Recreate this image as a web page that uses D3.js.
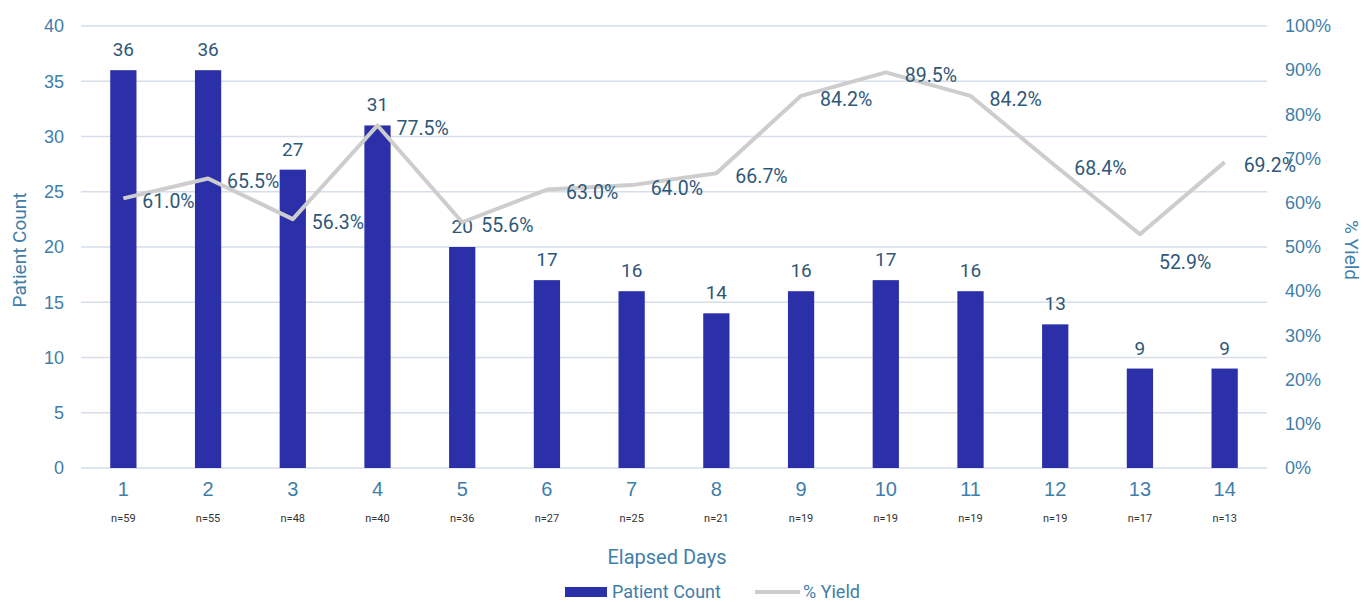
<!DOCTYPE html>
<html>
<head>
<meta charset="utf-8">
<script src="https://d3js.org/d3.v7.min.js"></script>
<style>
  body { margin: 0; background: #fff; }
  svg { font-family: Roboto, "Liberation Sans", sans-serif; }
</style>
</head>
<body>
<div id="chart"></div>
<script>
// chart values
var days = ["1", "2", "3", "4", "5", "6", "7", "8", "9", "10", "11", "12", "13", "14"]
var sampleSizes = [59, 55, 48, 40, 36, 27, 25, 21, 19, 19, 19, 19, 17, 13]
var patientCounts = [36, 36, 27, 31, 20, 17, 16, 14, 16, 17, 16, 13, 9, 9]
var yieldPct = [61.0, 65.5, 56.3, 77.5, 55.6, 63.0, 64.0, 66.7, 84.2, 89.5, 84.2, 68.4, 52.9, 69.2]
var countTicks = [0, 5, 10, 15, 20, 25, 30, 35, 40]
var pctTicks = [0, 10, 20, 30, 40, 50, 60, 70, 80, 90, 100]

var barColor = "#2c30a8"
var lineColor = "#cdcdcd"
var axisText = "#3f7ea8"
var labelText = "#2f5878"
var gridColor = "#d6deea"

var W = 1364, H = 602
var plotLeft = 81, plotRight = 1267, plotTop = 26, plotBottom = 468

var svg = d3.select("#chart").append("svg")
  .attr("width", W)
  .attr("height", H)

var x = d3.scaleBand()
  .domain(days)
  .range([plotLeft, plotRight])
  .paddingInner(0.69)
  .paddingOuter(0.345)

var yCount = d3.scaleLinear().domain([0, 40]).range([plotBottom, plotTop])
var yPct = d3.scaleLinear().domain([0, 100]).range([plotBottom, plotTop])

// gridlines
svg.append("g")
  .selectAll("line")
  .data(countTicks)
  .join("line")
  .attr("x1", plotLeft)
  .attr("x2", plotRight)
  .attr("y1", d => yCount(d))
  .attr("y2", d => yCount(d))
  .style("stroke", gridColor)
  .style("stroke-width", 1.5)

// left axis
var leftAxis = svg.append("g")
  .attr("transform", "translate(" + (plotLeft - 17) + ",0)")
  .call(d3.axisLeft(yCount).tickValues(countTicks).tickSize(0).tickPadding(0))
leftAxis.select(".domain").remove()
leftAxis.selectAll("text")
  .style("font-size", "18px")
  .style("fill", axisText)

// right axis
var rightAxis = svg.append("g")
  .attr("transform", "translate(" + (plotRight + 18) + ",0)")
  .call(d3.axisRight(yPct).tickValues(pctTicks).tickSize(0).tickPadding(0).tickFormat(d => d + "%"))
rightAxis.select(".domain").remove()
rightAxis.selectAll("text")
  .style("font-size", "18px")
  .style("fill", axisText)

// bottom category labels
var xAxis = svg.append("g")
  .attr("transform", "translate(0," + plotBottom + ")")
  .call(d3.axisBottom(x).tickSize(0).tickPadding(14))
xAxis.select(".domain").remove()
xAxis.selectAll("text")
  .style("font-size", "20px")
  .style("fill", axisText)

// n= labels
svg.append("g")
  .selectAll("text")
  .data(days)
  .join("text")
  .attr("x", d => x(d) + x.bandwidth() / 2)
  .attr("y", plotBottom + 54)
  .attr("text-anchor", "middle")
  .style("font-size", "11px")
  .style("fill", "#333")
  .text((d, i) => "n=" + sampleSizes[i])

// bars
svg.append("g")
  .selectAll("rect")
  .data(patientCounts)
  .join("rect")
  .attr("x", (d, i) => x(days[i]))
  .attr("y", d => yCount(d))
  .attr("width", x.bandwidth())
  .attr("height", d => yCount(0) - yCount(d))
  .style("fill", barColor)

// bar value labels
svg.append("g")
  .selectAll("text")
  .data(patientCounts)
  .join("text")
  .attr("x", (d, i) => x(days[i]) + x.bandwidth() / 2)
  .attr("y", d => yCount(d) - 14)
  .attr("text-anchor", "middle")
  .style("font-size", "19px")
  .style("fill", labelText)
  .text(d => d)

// yield line
var line = d3.line()
  .x((d, i) => x(days[i]) + x.bandwidth() / 2)
  .y(d => yPct(d))

svg.append("path")
  .datum(yieldPct)
  .attr("d", line)
  .style("fill", "none")
  .style("stroke", lineColor)
  .style("stroke-width", 4)
  .style("stroke-linejoin", "round")

// yield labels, to the right of each point (one sits below)
svg.append("g")
  .selectAll("text")
  .data(yieldPct)
  .join("text")
  .attr("x", (d, i) => x(days[i]) + x.bandwidth() / 2 + 19)
  .attr("y", (d, i) => yPct(d) + (i == 12 ? 28 : 3))
  .attr("dy", "0.35em")
  .style("font-size", "19.5px")
  .style("fill", labelText)
  .text(d => d.toFixed(1) + "%")

// axis titles
svg.append("text")
  .attr("transform", "translate(26,250) rotate(-90)")
  .attr("text-anchor", "middle")
  .style("font-size", "19px")
  .style("fill", axisText)
  .text("Patient Count")

svg.append("text")
  .attr("transform", "translate(1345,250) rotate(90)")
  .attr("text-anchor", "middle")
  .style("font-size", "19px")
  .style("fill", axisText)
  .text("% Yield")

svg.append("text")
  .attr("x", 667)
  .attr("y", 564)
  .attr("text-anchor", "middle")
  .style("font-size", "20px")
  .style("fill", axisText)
  .text("Elapsed Days")

// legend
var legend = svg.append("g")
legend.append("rect")
  .attr("x", 565)
  .attr("y", 587)
  .attr("width", 42)
  .attr("height", 10)
  .style("fill", barColor)
legend.append("text")
  .attr("x", 612)
  .attr("y", 598)
  .style("font-size", "18px")
  .style("fill", axisText)
  .text("Patient Count")
legend.append("line")
  .attr("x1", 755)
  .attr("x2", 800)
  .attr("y1", 592)
  .attr("y2", 592)
  .style("stroke", lineColor)
  .style("stroke-width", 4)
legend.append("text")
  .attr("x", 803)
  .attr("y", 598)
  .style("font-size", "18px")
  .style("fill", axisText)
  .text("% Yield")
</script>
</body>
</html>
